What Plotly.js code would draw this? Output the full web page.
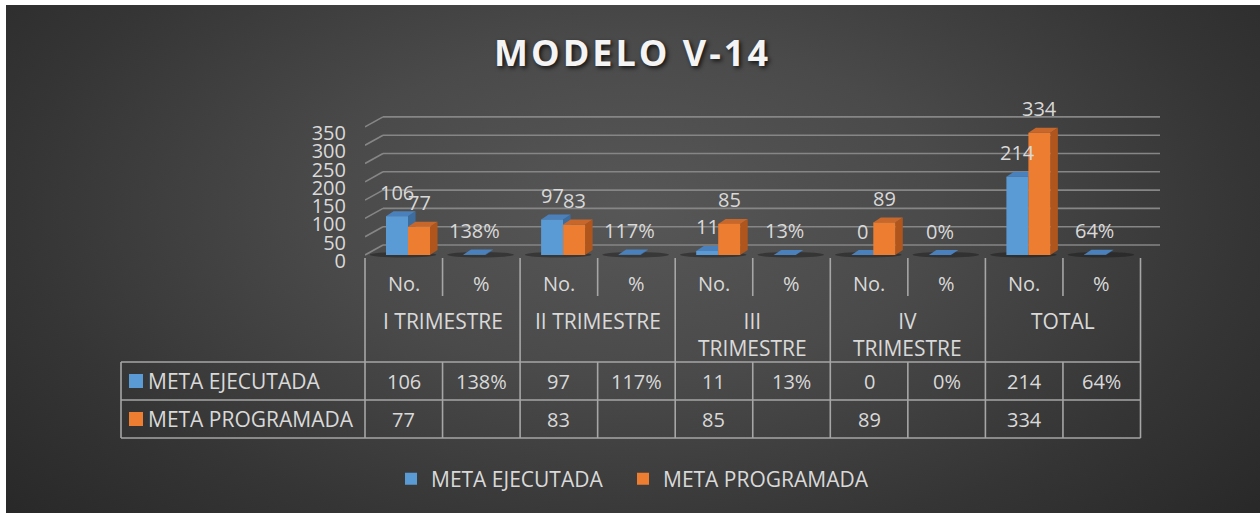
<!DOCTYPE html>
<html>
<head>
<meta charset="utf-8">
<script src="https://cdn.plot.ly/plotly-3.0.1.min.js"></script>
<style>
html,body{margin:0;padding:0;background:#fff;}
#wrap{position:relative;width:1260px;height:515px;overflow:hidden;background:#fff;}
#bg{position:absolute;left:6px;top:5px;width:1254px;height:508px;
  background:radial-gradient(ellipse 70% 95% at 50% 40%, #575757 0%, #4a4a4a 35%, #353535 70%, #262626 100%);}
#chart{position:absolute;left:0;top:0;width:1260px;height:515px;}
.gtitle{letter-spacing:3px;}
</style>
</head>
<body>
<div id="wrap"><div id="bg"></div><div id="chart"></div></div>
<script>
// ---------------- DATA ----------------
const categories = ['I TRIMESTRE', 'II TRIMESTRE', 'III TRIMESTRE', 'IV TRIMESTRE', 'TOTAL'];
const categoryLabels = ['I TRIMESTRE', 'II TRIMESTRE', 'III<br>TRIMESTRE', 'IV<br>TRIMESTRE', 'TOTAL'];
const subLabels = ['No.', '%'];
const ejecutadaNo = [106, 97, 11, 0, 214];
const ejecutadaPct = [1.38, 1.17, 0.13, 0, 0.64];
const programadaNo = [77, 83, 85, 89, 334];
const seriesNames = ['META EJECUTADA', 'META PROGRAMADA'];
const yTicks = [0, 50, 100, 150, 200, 250, 300, 350];

// ---------------- GEOMETRY / STYLE ----------------
const W = 1260, H = 515;
const mL = 365, mR = 100, mT = 113, mB = 250;
const plotW = W - mL - mR, plotH = H - mT - mB;
const colPx = 77.55;
const pxPerUnit = 0.366;
const zeroPx = 255;
const xMin = -0.5, xMax = -0.5 + plotW / colPx;
const yBottomPx = 258;
const yMin = -(yBottomPx - zeroPx) / pxPerUnit;
const yMax = (zeroPx - mT) / pxPerUnit;
const labelShift = 6;

const barW = 22 / colPx;
const blueOff = -0.5 + 21 / colPx;
const orangeOff = blueOff + barW;
const dX = 7.5 / colPx, dY = 5 / pxPerUnit;
const backDx = 18 / colPx, backDy = 10 / pxPerUnit;

const txt = '#d9d9d9';
const font = 'Open Sans, Noto Sans, sans-serif';
const numSize = 20, wordSize = 21;
const blue = {front: '#5b9bd5', side: '#3d6c9e', top: '#4a80bb'};
const orange = {front: '#ed7d31', side: '#b0561d', top: '#c8672b'};
const lineCol = '#a6a6a6';

const xP = xd => (xd - xMin) / (xMax - xMin);
const pxX = px => (px - mL) / plotW;
const pxY = py => (mT + plotH - py) / plotH;

// ---------------- BAR DATA ----------------
const blueX = [], blueY = [], blueText = [];
categories.forEach((c, g) => {
  blueX.push(g * 2); blueY.push(ejecutadaNo[g]); blueText.push(String(ejecutadaNo[g]));
  blueX.push(g * 2 + 1); blueY.push(ejecutadaPct[g]); blueText.push(Math.round(ejecutadaPct[g] * 100) + '%');
});
const orangeX = categories.map((c, g) => g * 2);
const orangeY = programadaNo.slice();
const orangeText = programadaNo.map(String);

const traces = [
  {type: 'bar', x: blueX, y: blueY, name: seriesNames[0], offset: blueOff, width: barW, legendwidth: 187,
   marker: {color: blue.front, line: {width: 0}}, hoverinfo: 'skip'},
  {type: 'bar', x: orangeX, y: orangeY, name: seriesNames[1], offset: orangeOff, width: barW, legendwidth: 230,
   marker: {color: orange.front, line: {width: 0}}, hoverinfo: 'skip'},
  {type: 'scatter', x: [], y: [], yaxis: 'y2', showlegend: false, hoverinfo: 'skip'}
];

// ---------------- SHAPES ----------------
const shapes = [];
yTicks.forEach(v => {
  shapes.push({type: 'line', xref: 'x', yref: 'y', x0: xMin + backDx, x1: xMax, y0: v + backDy, y1: v + backDy,
    line: {color: '#868686', width: 1.6}, layer: 'below'});
  shapes.push({type: 'line', xref: 'x', yref: 'y', x0: xMin, x1: xMin + backDx, y0: v, y1: v + backDy,
    line: {color: '#868686', width: 1.6}, layer: 'below'});
});
for (let i = 0; i < blueX.length; i++) {
  const l = blueX[i] - 0.44, r = blueX[i] + 0.42;
  shapes.push({type: 'circle', xref: 'x', yref: 'y', x0: l, x1: r, y0: -7, y1: 8,
    fillcolor: 'rgba(20,20,20,0.42)', line: {width: 0}, layer: 'below'});
}
function faces(x, v, off, col) {
  const l = x + off, r = l + barW;
  shapes.push({type: 'path', xref: 'x', yref: 'y', layer: 'below', fillcolor: col.side, line: {width: 0},
    path: `M ${r},0 L ${r + dX},${dY} L ${r + dX},${v + dY} L ${r},${v} Z`});
  shapes.push({type: 'path', xref: 'x', yref: 'y', layer: 'below', fillcolor: col.top, line: {width: 0},
    path: `M ${l},${v} L ${l + dX},${v + dY} L ${r + dX},${v + dY} L ${r},${v} Z`});
}
for (let i = 0; i < blueX.length; i++) {
  faces(blueX[i], blueY[i], blueOff, blue);
  const oi = orangeX.indexOf(blueX[i]);
  if (oi >= 0) faces(orangeX[oi], orangeY[oi], orangeOff, orange);
}
const L = (x0, y0, x1, y1) => shapes.push({type: 'line', xref: 'paper', yref: 'paper', x0, y0, x1, y1,
  line: {color: lineCol, width: 1.6}});
const nCols = categories.length * subLabels.length;
for (let k = 0; k <= nCols; k++) {
  const xd = k - 0.5;
  if (k % 2 === 0) {
    L(xP(xd), pxY(258), xP(xd), pxY(438));
  } else {
    L(xP(xd), pxY(258), xP(xd), pxY(296));
    L(xP(xd), pxY(362), xP(xd), pxY(438));
  }
}
[362, 400, 438].forEach(py => L(pxX(121), pxY(py), xP(nCols - 0.5), pxY(py)));
L(pxX(121), pxY(362), pxX(121), pxY(438));
[[blue.front, 381], [orange.front, 419]].forEach(([c, cy]) => {
  shapes.push({type: 'rect', xref: 'paper', yref: 'paper', x0: pxX(129), x1: pxX(143), y0: pxY(cy + 7), y1: pxY(cy - 7),
    fillcolor: c, line: {width: 0}});
});

// ---------------- ANNOTATIONS ----------------
const ann = [];
const A = (o, size) => ann.push(Object.assign({showarrow: false, font: {family: font, size: size || numSize, color: txt}}, o));
blueX.forEach((x, i) => A({xref: 'x', yref: 'y', x: x + blueOff + barW / 2, y: blueY[i], yshift: 24, text: blueText[i]}));
orangeX.forEach((x, i) => A({xref: 'x', yref: 'y', x: x + orangeOff + barW / 2, y: orangeY[i], yshift: 24, text: orangeText[i]}));
categories.forEach((c, g) => {
  subLabels.forEach((s, si) => A({xref: 'x', yref: 'paper', x: g * 2 + si, y: pxY(283), yanchor: 'middle', text: s}));
  A({xref: 'x', yref: 'paper', x: g * 2 + 0.5, y: pxY(305), yanchor: 'top', text: categoryLabels[g]}, wordSize);
  A({xref: 'x', yref: 'paper', x: g * 2, y: pxY(381), yanchor: 'middle', text: String(ejecutadaNo[g])});
  A({xref: 'x', yref: 'paper', x: g * 2 + 1, y: pxY(381), yanchor: 'middle', text: Math.round(ejecutadaPct[g] * 100) + '%'});
  A({xref: 'x', yref: 'paper', x: g * 2, y: pxY(419), yanchor: 'middle', text: String(programadaNo[g])});
});
seriesNames.forEach((n, i) => A({xref: 'paper', yref: 'paper', x: pxX(146), y: pxY(381 + 38 * i), xanchor: 'left', yanchor: 'middle', text: n}, wordSize));

// ---------------- LAYOUT ----------------
const layout = {
  width: W, height: H,
  margin: {l: mL, r: mR, t: mT, b: mB, pad: 0},
  paper_bgcolor: 'rgba(0,0,0,0)', plot_bgcolor: 'rgba(0,0,0,0)',
  font: {family: font, size: 20, color: txt},
  title: {text: 'MODELO V-14', xref: 'container', yref: 'container', x: 0.502, y: 1 - 53 / H,
    xanchor: 'center', yanchor: 'middle',
    font: {family: font, size: 36, weight: 'bold', color: '#f4f4f4', shadow: '2px 2px 4px rgba(0,0,0,0.75)'}},
  barmode: 'overlay',
  xaxis: {range: [xMin, xMax], showgrid: false, zeroline: false, showticklabels: false, ticks: '', showline: false, fixedrange: true},
  yaxis: {range: [yMin, yMax], domain: [(mT + plotH - yBottomPx) / plotH, 1], showgrid: false, zeroline: false,
    showticklabels: false, ticks: '', showline: false, fixedrange: true},
  yaxis2: {range: [yMin, yMax], domain: [(mT + plotH - yBottomPx - labelShift) / plotH, 1 - labelShift / plotH],
    anchor: 'x', tickvals: yTicks, ticktext: yTicks.map(String), showgrid: false, zeroline: false, ticks: '',
    showline: false, tickfont: {family: font, size: 20, color: txt}, ticklabelstandoff: 18, fixedrange: true},
  showlegend: true,
  legend: {orientation: 'h', x: pxX(391), xanchor: 'left', y: pxY(479), yanchor: 'middle',
    font: {family: font, size: wordSize, color: txt}, bgcolor: 'rgba(0,0,0,0)', traceorder: 'normal'},
  shapes: shapes,
  annotations: ann
};

Plotly.newPlot('chart', traces, layout, {displayModeBar: false, staticPlot: true});
</script>
</body>
</html>
